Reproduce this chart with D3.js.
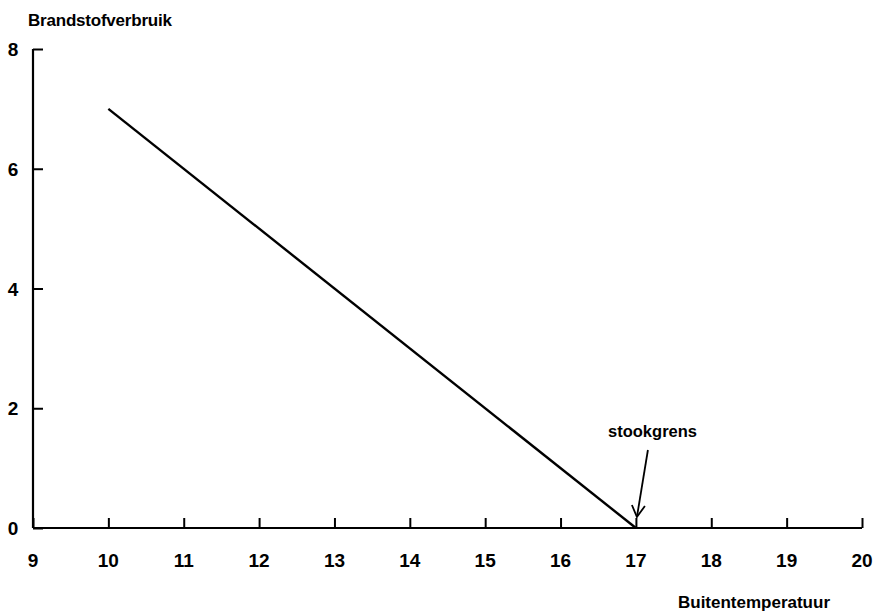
<!DOCTYPE html>
<html><head><meta charset="utf-8">
<script src="https://cdn.jsdelivr.net/npm/d3@7"></script>
<style>body{margin:0;background:#fff}svg{display:block}text{font-family:"Liberation Sans",Arial,sans-serif;font-weight:bold;fill:#000}</style>
</head><body>
<script>
const xTicks = [9,10,11,12,13,14,15,16,17,18,19,20];
const yTicks = [0,2,4,6,8];
const temps = [10, 17];
const fuel = [7, 0];
const yTitle = "Brandstofverbruik";
const xTitle = "Buitentemperatuur";
const annotation = {label: "stookgrens", x: 17, y: 0};

const W = 876, H = 611;
const svg = d3.select("body").append("svg").attr("width", W).attr("height", H);
const x = d3.scaleLinear().domain([9,20]).range([33,862]);
const y = d3.scaleLinear().domain([0,8]).range([528,49]);

const xAxis = svg.append("g").attr("transform", `translate(0,${y(0)})`)
  .call(d3.axisTop(x).tickValues(xTicks).tickSize(10).tickFormat(""));
xAxis.select(".domain").remove();
xAxis.selectAll("line").attr("stroke","#000").attr("stroke-width",2);
svg.append("line").attr("x1",x(9)).attr("x2",x(20)).attr("y1",y(0)).attr("y2",y(0)).attr("stroke","#000").attr("stroke-width",2.2);

const yAxis = svg.append("g").attr("transform", `translate(${x(9)},0)`)
  .call(d3.axisRight(y).tickValues(yTicks).tickSize(10).tickFormat(""));
yAxis.select(".domain").remove();
yAxis.selectAll("line").attr("stroke","#000").attr("stroke-width",2);
svg.append("line").attr("x1",x(9)).attr("x2",x(9)).attr("y1",y(8)).attr("y2",y(0)).attr("stroke","#000").attr("stroke-width",2.2);

svg.selectAll(".xl").data(xTicks).enter().append("text")
  .attr("x", d=>x(d)).attr("y", 567).attr("text-anchor","middle").attr("font-size",19).text(d=>d);
svg.selectAll(".yl").data(yTicks).enter().append("text")
  .attr("x", 13).attr("y", d=>y(d)+7).attr("text-anchor","middle").attr("font-size",19).text(d=>d);

svg.append("text").attr("x",28).attr("y",26).attr("font-size",17).attr("textLength",144).text(yTitle);
svg.append("text").attr("x",678).attr("y",608).attr("font-size",17).attr("textLength",152).text(xTitle);

const line = d3.line().x((d,i)=>x(temps[i])).y(d=>y(d));
svg.append("path").datum(fuel).attr("d", line).attr("fill","none").attr("stroke","#000").attr("stroke-width",2.4);

// annotation
const ax = x(annotation.x), ay = y(annotation.y);
svg.append("text").attr("x", 608).attr("y", 437).attr("font-size",16.5).attr("textLength",89).text(annotation.label);
svg.append("line").attr("x1", ax+12).attr("y1", 450).attr("x2", ax+1).attr("y2", ay-11).attr("stroke","#000").attr("stroke-width",1.8);
svg.append("path").attr("d", `M${ax-4},${ay-23} L${ax+1},${ay-11} L${ax+9},${ay-22}`).attr("fill","none").attr("stroke","#000").attr("stroke-width",1.8);
</script>
</body></html>
